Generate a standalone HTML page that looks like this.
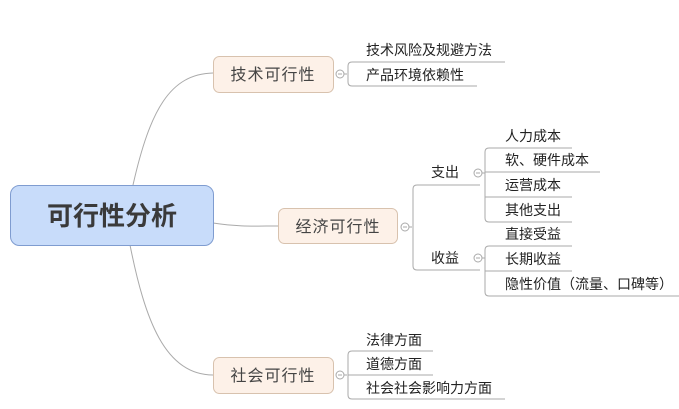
<!DOCTYPE html>
<html><head><meta charset="utf-8"><style>
html,body{margin:0;padding:0;background:#fff;}
svg{display:block;font-family:"Liberation Sans","Noto Sans CJK SC",sans-serif;}
.leaf{font-size:14px;fill:#222;}
.l{stroke:#aaa;stroke-width:1;fill:none;}
</style></head><body>
<svg width="679" height="409" viewBox="0 0 679 409">
<path class="l" d="M133 185 C150 110,170 74,213 73"/>
<path class="l" d="M130 245 C145 320,165 375,213 375"/>
<path class="l" d="M213 223 C240 227,255 226,278 226"/>
<rect x="10.5" y="185.5" width="203" height="60" rx="9" fill="#c8dcfa" stroke="#7f9cd0"/>
<text x="112" y="225" font-size="26" font-weight="bold" text-anchor="middle" fill="#3a3a3a">可行性分析</text>
<rect x="213.5" y="56.5" width="120" height="36" rx="6" fill="#fdf1e8" stroke="#d8c2ae"/>
<text x="273" y="80" font-size="16" text-anchor="middle" fill="#444" letter-spacing="1">技术可行性</text>
<circle cx="340" cy="74" r="4" fill="#fff" stroke="#aaa"/><line x1="338" y1="74" x2="342" y2="74" stroke="#aaa"/>
<path class="l" d="M344 74 H347"/>
<path class="l" d="M505 62 H352 Q348 62 348 66 V82 Q348 86 352 86 H477"/>
<text class="leaf" x="366" y="55">技术风险及规避方法</text>
<text class="leaf" x="366" y="80">产品环境依赖性</text>
<rect x="278.5" y="208.5" width="119" height="35" rx="6" fill="#fdf1e8" stroke="#d8c2ae"/>
<text x="338" y="232" font-size="16" text-anchor="middle" fill="#444" letter-spacing="1">经济可行性</text>
<circle cx="405" cy="227" r="4" fill="#fff" stroke="#aaa"/><line x1="403" y1="227" x2="407" y2="227" stroke="#aaa"/>
<path class="l" d="M409 227 H412"/>
<path class="l" d="M480 185 H417 Q413 185 413 189 V266 Q413 270 417 270 H480"/>
<text class="leaf" x="431" y="177">支出</text>
<text class="leaf" x="431" y="263">收益</text>
<circle cx="478" cy="173" r="4" fill="#fff" stroke="#aaa"/><line x1="476" y1="173" x2="480" y2="173" stroke="#aaa"/>
<circle cx="478" cy="258" r="4" fill="#fff" stroke="#aaa"/><line x1="476" y1="258" x2="480" y2="258" stroke="#aaa"/>
<path class="l" d="M482 173 H485"/>
<path class="l" d="M482 258 H485"/>
<path class="l" d="M572 148 H489 Q485 148 485 152 V218 Q485 222 489 222 H572"/>
<path class="l" d="M485 172 H600 M485 197 H572"/>
<path class="l" d="M572 246 H489 Q485 246 485 250 V292 Q485 296 489 296 H679"/>
<path class="l" d="M485 271 H572"/>
<text class="leaf" x="505" y="141">人力成本</text>
<text class="leaf" x="505" y="165">软、硬件成本</text>
<text class="leaf" x="505" y="190">运营成本</text>
<text class="leaf" x="505" y="215">其他支出</text>
<text class="leaf" x="505" y="239">直接受益</text>
<text class="leaf" x="505" y="264">长期收益</text>
<text class="leaf" x="505" y="289">隐性价值（流量、口碑等）</text>
<rect x="213.5" y="357.5" width="120" height="36" rx="6" fill="#fdf1e8" stroke="#d8c2ae"/>
<text x="273" y="381" font-size="16" text-anchor="middle" fill="#444" letter-spacing="1">社会可行性</text>
<circle cx="340" cy="375" r="4" fill="#fff" stroke="#aaa"/><line x1="338" y1="375" x2="342" y2="375" stroke="#aaa"/>
<path class="l" d="M344 375 H347"/>
<path class="l" d="M433 351 H352 Q348 351 348 355 V395 Q348 399 352 399 H505"/>
<path class="l" d="M348 375 H433"/>
<text class="leaf" x="366" y="345">法律方面</text>
<text class="leaf" x="366" y="369">道德方面</text>
<text class="leaf" x="366" y="393">社会社会影响力方面</text>
</svg>
</body></html>
